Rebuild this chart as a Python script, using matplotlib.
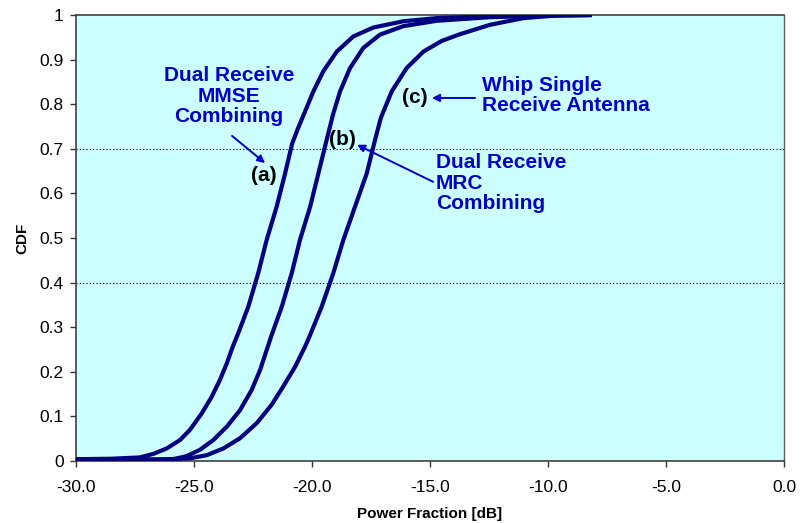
import matplotlib
matplotlib.use("Agg")
import matplotlib.pyplot as plt

# ---- data ----
cdf_a_x = [-30.0, -28.5, -27.29, -26.72, -26.16, -25.59, -25.17, -24.67, -24.25, -23.90, -23.61, -23.36,
           -23.10, -22.70, -22.28, -21.92, -21.50, -21.14, -20.84, -20.60, -20.30, -19.94, -19.52, -18.95,
           -18.25, -17.40, -16.13, -14.72, -12.5, -10.0, -8.15]
cdf_a_y = [0.004, 0.005, 0.008, 0.016, 0.028, 0.047, 0.070, 0.107, 0.144, 0.182, 0.219, 0.256,
           0.290, 0.346, 0.421, 0.496, 0.570, 0.645, 0.712, 0.745, 0.783, 0.829, 0.874, 0.918,
           0.952, 0.972, 0.986, 0.993, 0.997, 0.999, 1.0]

cdf_b_x = [-30.0, -27.5, -25.88, -25.31, -24.75, -24.18, -23.61, -23.05, -22.56, -22.20, -21.92, -21.72,
           -21.28, -20.86, -20.51, -20.08, -19.73, -19.38, -19.12, -18.81, -18.39, -17.83, -17.12,
           -16.13, -14.72, -12.5, -10.0, -8.15]
cdf_b_y = [0.003, 0.003, 0.004, 0.011, 0.025, 0.047, 0.077, 0.114, 0.159, 0.204, 0.249, 0.281,
           0.346, 0.421, 0.496, 0.570, 0.645, 0.720, 0.775, 0.829, 0.881, 0.926, 0.956,
           0.975, 0.987, 0.995, 0.999, 1.0]

cdf_c_x = [-30.0, -26.5, -25.17, -24.46, -23.76, -23.05, -22.34, -21.71, -21.22, -20.72, -20.30, -20.10,
           -19.59, -19.10, -18.67, -18.18, -17.68, -17.33, -17.08, -16.62, -15.99, -15.28, -14.50,
           -13.73, -12.46, -11.05, -9.63, -8.15]
cdf_c_y = [0.002, 0.003, 0.006, 0.013, 0.028, 0.051, 0.085, 0.126, 0.167, 0.211, 0.256, 0.280,
           0.346, 0.421, 0.496, 0.570, 0.645, 0.720, 0.770, 0.829, 0.881, 0.918, 0.942,
           0.957, 0.978, 0.993, 0.999, 1.0]

x_ticks = [-30, -25, -20, -15, -10, -5, 0]
y_ticks = [0, 0.1, 0.2, 0.3, 0.4, 0.5, 0.6, 0.7, 0.8, 0.9, 1.0]
y_tick_labels = ["0", "0.1", "0.2", "0.3", "0.4", "0.5", "0.6", "0.7", "0.8", "0.9", "1"]
grid_levels = [0.4, 0.7]

plt.rcParams['font.family'] = ['Liberation Sans', 'DejaVu Sans']

fig = plt.figure(figsize=(8.01, 5.23), dpi=100)
ax = fig.add_axes([0.0949, 0.1186, 0.8839, 0.8527])
ax.set_facecolor('#CCFFFF')

line_color = '#000080'
for xs, ys in [(cdf_a_x, cdf_a_y), (cdf_b_x, cdf_b_y), (cdf_c_x, cdf_c_y)]:
    ax.plot(xs, ys, color=line_color, lw=3.0, solid_capstyle='butt',
            solid_joinstyle='round', zorder=3)

for g in grid_levels:
    ax.axhline(g, color='black', lw=0.8, ls=(0, (1, 2)), zorder=1)

ax.set_xlim(-30, 0)
ax.set_ylim(0, 1)
ax.set_xticks(x_ticks)
ax.set_xticklabels([f"{v:.1f}" for v in x_ticks])
ax.set_yticks(y_ticks)
ax.set_yticklabels(y_tick_labels)
ax.tick_params(axis='both', labelsize=12.5, direction='out', length=4, width=1, color='#333333')
ax.tick_params(axis='x', pad=10)
ax.tick_params(axis='y', pad=5)

for s in ['left', 'bottom', 'top']:
    ax.spines[s].set_color('#404040')
    ax.spines[s].set_linewidth(1.2)
ax.spines['right'].set_color('#606060')
ax.spines['right'].set_linestyle((0, (1, 1)))
ax.spines['right'].set_linewidth(1.0)

ax.set_xlabel("Power Fraction [dB]", fontsize=11, fontweight='bold', labelpad=8.5)
ax.set_ylabel("CDF", fontsize=11, fontweight='bold', labelpad=7)

blue = '#0000C8'
tkw = dict(fontsize=15, fontweight='bold', color=blue, linespacing=1.12)
ax.text(-23.52, 0.818, "Dual Receive\nMMSE\nCombining", ha='center', va='center', **tkw)
ax.text(-14.75, 0.623, "Dual Receive\nMRC\nCombining", ha='left', va='center', **tkw)
ax.text(-12.80, 0.8195, "Whip Single\nReceive Antenna", ha='left', va='center', **tkw)

lkw = dict(fontsize=15, fontweight='bold', color='black', ha='center', va='center', zorder=4)
ax.text(-22.03, 0.641, "(a)", **lkw)
ax.text(-18.69, 0.72, "(b)", **lkw)
ax.text(-15.64, 0.814, "(c)", **lkw)

akw = dict(arrowstyle='-|>', color=blue, lw=1.4, mutation_scale=11, shrinkA=0, shrinkB=0)
ax.annotate("", xy=(-21.99, 0.668), xytext=(-23.39, 0.729), arrowprops=akw)
ax.annotate("", xy=(-18.09, 0.709), xytext=(-14.87, 0.626), arrowprops=akw)
ax.annotate("", xy=(-14.92, 0.814), xytext=(-13.09, 0.814), arrowprops=akw)

fig.savefig("out.png", dpi=100)
